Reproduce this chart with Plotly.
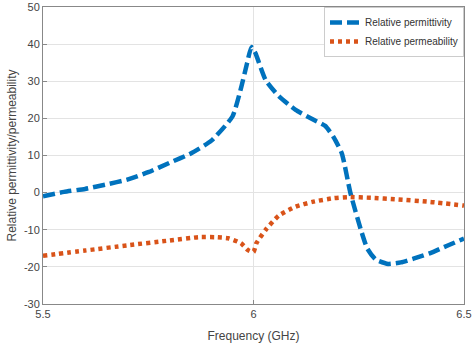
import plotly.graph_objects as go

freq_perm = [5.5, 5.55, 5.6, 5.65, 5.7, 5.75, 5.8, 5.85, 5.9, 5.95, 5.97, 5.985, 5.995, 6.005, 6.013, 6.029, 6.06, 6.1, 6.145, 6.17, 6.19, 6.21, 6.23, 6.255, 6.27, 6.29, 6.32, 6.35, 6.38, 6.42, 6.46, 6.5]
permittivity = [-1.0, 0.2, 1.0, 2.2, 3.5, 5.5, 8.0, 10.5, 14.0, 20.5, 28.0, 35.0, 39.2, 37.5, 35.0, 30.3, 26.0, 22.3, 19.5, 18.0, 15.0, 10.5, 0.0, -10.0, -15.0, -18.0, -19.2, -18.8, -17.8, -16.3, -14.3, -12.4]

freq_perm2 = [5.5, 5.6, 5.7, 5.8, 5.87, 5.91, 5.94, 5.97, 5.987, 6.0, 6.007, 6.029, 6.06, 6.1, 6.14, 6.19, 6.225, 6.28, 6.34, 6.42, 6.5]
permeability = [-17.0, -15.6, -14.2, -12.9, -12.0, -12.0, -12.3, -13.6, -15.5, -16.0, -13.6, -10.0, -6.2, -3.8, -2.5, -1.5, -1.2, -1.4, -1.8, -2.5, -3.5]

x_ticks = [5.5, 6, 6.5]
x_tick_text = ["5.5", "6", "6.5"]
y_ticks = [-30, -20, -10, 0, 10, 20, 30, 40, 50]
y_tick_text = ["-30", "-20", "-10", "0", "10", "20", "30", "40", "50"]

fig = go.Figure()
fig.add_trace(go.Scatter(
    x=freq_perm, y=permittivity, mode="lines", name="Relative permittivity",
    line=dict(color="#0072BD", width=4.5, dash="12px,5px", shape="spline", smoothing=0.5),
))
fig.add_trace(go.Scatter(
    x=freq_perm2, y=permeability, mode="lines", name="Relative permeability",
    line=dict(color="#D95319", width=4.5, dash="4px,4px", shape="spline", smoothing=0.5),
))

axis_common = dict(
    showline=True, linecolor="#888888", linewidth=1, mirror=True,
    showgrid=True, gridcolor="#e3e3e3", gridwidth=1, zeroline=False,
    ticks="inside", ticklen=4, tickcolor="#888888",
    tickfont=dict(family="Liberation Sans, Arial", size=11, color="#444444"),
    ticklabeloverflow="allow", automargin=False,
)

fig.update_layout(
    width=474, height=343,
    margin=dict(l=43, r=10, t=7, b=39),
    paper_bgcolor="white", plot_bgcolor="white",
    font=dict(family="Liberation Sans, Arial", size=11, color="#444444"),
    xaxis=dict(range=[5.5, 6.5], tickvals=x_ticks, ticktext=x_tick_text,
               title=dict(text="Frequency (GHz)", standoff=20, font=dict(size=12)), **axis_common),
    yaxis=dict(range=[-30, 50], tickvals=y_ticks, ticktext=y_tick_text,
               title=dict(text="Relative permittivity/permeability", standoff=4, font=dict(size=12)), **axis_common),
    legend=dict(x=1, y=1, xanchor="right", yanchor="top", bgcolor="white",
                bordercolor="#cccccc", borderwidth=1, font=dict(size=10, color="#333333"),
                tracegroupgap=0, itemwidth=30),
    showlegend=True,
)

fig.write_html("out.html")
